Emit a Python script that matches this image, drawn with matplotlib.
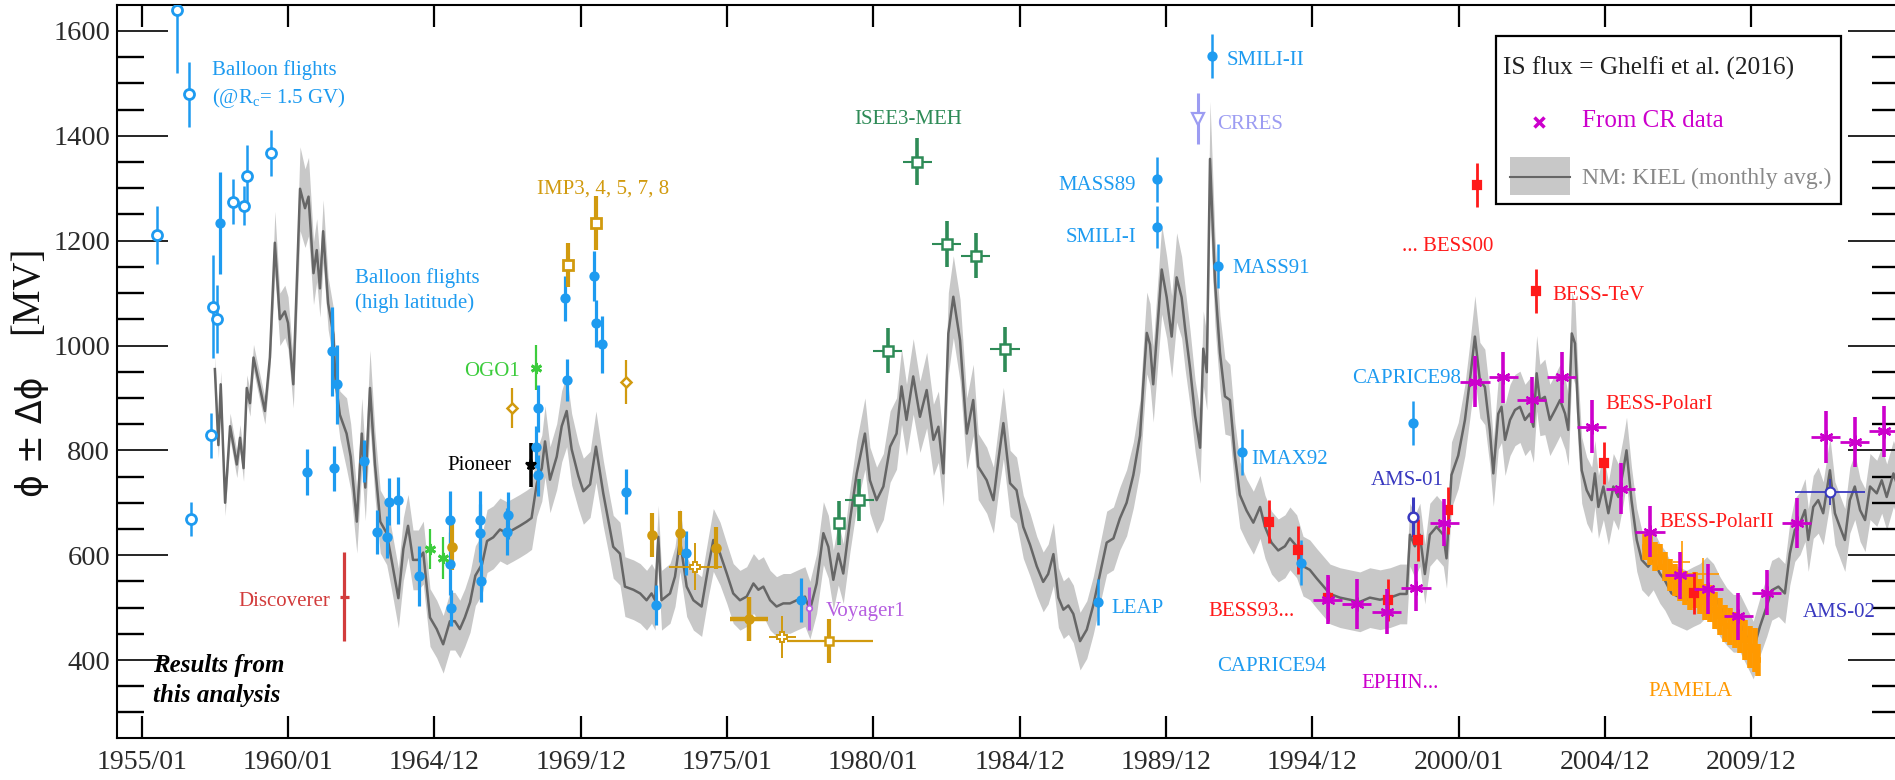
import matplotlib
matplotlib.use("Agg")
import matplotlib.pyplot as plt
from matplotlib.patches import Rectangle
from matplotlib.lines import Line2D
from matplotlib.ticker import MultipleLocator

plt.rcParams['font.family'] = ['Liberation Serif', 'DejaVu Sans']
plt.rcParams['mathtext.fontset'] = 'custom'
plt.rcParams['mathtext.rm'] = 'Liberation Serif'
plt.rcParams['mathtext.it'] = 'Liberation Serif:italic'

# ---------------------------------------------------------------- data
tick_years = [1955, 1960, 1965, 1970, 1975, 1980, 1985, 1990, 1995, 2000, 2005, 2010]
tick_labels = ["1955/01", "1960/01", "1964/12", "1969/12", "1975/01", "1980/01",
               "1984/12", "1989/12", "1994/12", "2000/01", "2004/12", "2009/12"]
phi_ticks = [400, 600, 800, 1000, 1200, 1400, 1600]

# Kiel neutron monitor, monthly modulation potential and its uncertainty
kiel_year = [
    1957.50, 1957.62, 1957.70, 1957.85, 1958.02, 1958.25, 1958.36, 1958.48, 1958.59, 1958.70,
    1958.82, 1959.04, 1959.21, 1959.38, 1959.55, 1959.72, 1959.89, 1960.00, 1960.18, 1960.41,
    1960.58, 1960.70, 1960.87, 1960.98, 1961.09, 1961.20, 1961.37, 1961.55, 1961.62, 1961.77,
    1962.00, 1962.14, 1962.35, 1962.52, 1962.64, 1962.80, 1962.97, 1963.15, 1963.37, 1963.54,
    1963.77, 1963.94, 1964.10, 1964.27, 1964.45, 1964.62, 1964.85, 1965.08, 1965.30, 1965.53,
    1965.70, 1965.87, 1966.04, 1966.22, 1966.40, 1966.63, 1966.80, 1967.01, 1967.24, 1967.47,
    1967.70, 1967.92, 1968.15, 1968.32, 1968.50, 1968.67, 1968.78, 1968.95, 1969.18, 1969.35,
    1969.52, 1969.69, 1969.92, 1970.09, 1970.32, 1970.52,
    1970.77, 1970.94, 1971.11, 1971.34, 1971.51, 1971.80, 1972.03, 1972.25, 1972.42, 1972.54,
    1972.65, 1972.76, 1973.05, 1973.22, 1973.39, 1973.62, 1973.85, 1974.13, 1974.36, 1974.53,
    1974.76, 1974.99, 1975.21, 1975.44, 1975.67, 1975.90, 1976.07, 1976.24, 1976.47, 1976.69,
    1976.92, 1977.15, 1977.38, 1977.66, 1977.83, 1978.06, 1978.29, 1978.46, 1978.63, 1978.80,
    1978.97, 1979.20, 1979.43, 1979.71, 1979.88, 1980.11, 1980.34, 1980.57, 1980.79, 1980.96,
    1981.13, 1981.36, 1981.59, 1981.82, 1982.05, 1982.22, 1982.39, 1982.56, 1982.73, 1982.96,
    1983.19, 1983.41, 1983.58, 1983.87, 1984.10, 1984.27, 1984.44, 1984.67, 1984.89, 1985.12,
    1985.35, 1985.58,
    1985.80, 1985.97, 1986.15, 1986.32, 1986.49, 1986.66, 1986.83, 1987.06, 1987.29, 1987.51,
    1987.74, 1987.97, 1988.20, 1988.42, 1988.65, 1988.88, 1989.11, 1989.22, 1989.34, 1989.45,
    1989.56, 1989.68, 1989.85, 1990.02, 1990.19, 1990.36, 1990.53, 1990.65, 1990.82, 1990.99,
    1991.16, 1991.27, 1991.39, 1991.50, 1991.67, 1991.84, 1992.01, 1992.18, 1992.35, 1992.52,
    1992.75, 1992.98, 1993.21, 1993.38, 1993.60, 1993.83, 1994.06, 1994.23, 1994.46, 1994.68,
    1994.91, 1995.14, 1995.37, 1995.60, 1995.94, 1996.28, 1996.62, 1996.96, 1997.31, 1997.65,
    1997.99, 1998.22, 1998.33, 1998.50, 1998.67, 1998.84, 1999.01, 1999.24, 1999.47, 1999.58,
    1999.75, 1999.98,
    2000.21, 2000.38, 2000.55, 2000.72, 2000.89, 2001.06, 2001.18, 2001.35, 2001.46, 2001.58,
    2001.75, 2001.92, 2002.09, 2002.26, 2002.43, 2002.55, 2002.66, 2002.77, 2002.94, 2003.11,
    2003.29, 2003.46, 2003.63, 2003.74, 2003.86, 2003.97, 2004.08, 2004.20, 2004.37, 2004.54,
    2004.65, 2004.77, 2004.94, 2005.11, 2005.28, 2005.45, 2005.62, 2005.73, 2005.90, 2006.08,
    2006.25, 2006.47, 2006.64, 2006.87, 2007.04, 2007.27, 2007.50, 2007.78, 2008.01, 2008.24,
    2008.47, 2008.70, 2008.92, 2009.15, 2009.38, 2009.61, 2009.83, 2010.06, 2010.29, 2010.52,
    2010.69, 2010.92, 2011.14, 2011.31, 2011.48, 2011.66, 2011.83, 2011.94, 2012.11, 2012.28,
    2012.45, 2012.68, 2012.85, 2013.02, 2013.19, 2013.36, 2013.53, 2013.71, 2013.88, 2014.05,
    2014.28, 2014.45, 2014.62, 2014.85, 2015.00,
]
kiel_phi = [
    955, 810, 926, 700, 846, 773, 824, 766, 919, 890,
    977, 919, 875, 977, 1196, 1050, 1065, 1043, 926, 1299,
    1262, 1284, 1138, 1182, 1109, 1218, 1080, 1021, 934, 868,
    832, 788, 664, 832, 729, 919, 773, 664, 642, 590,
    518, 612, 656, 591, 591, 605, 481, 459, 430, 474,
    474, 459, 481, 510, 561, 583, 627, 634, 649, 642,
    649, 656, 664, 671, 737, 766, 817, 744, 788, 846,
    875, 802, 751, 722, 735, 807,
    718, 667, 616, 603, 540, 534, 527, 514, 527, 514,
    635, 514, 527, 559, 629, 540, 514, 502, 578, 629,
    603, 565, 527, 514, 521, 546, 534, 540, 514, 502,
    508, 508, 514, 521, 495, 546, 642, 616, 553, 603,
    565, 667, 756, 832, 743, 705, 731, 807, 832, 922,
    858, 941, 864, 915, 820, 845, 756, 1023, 1093, 1010,
    832, 896, 769, 743, 705, 782, 852, 737, 724, 654,
    620, 579,
    549, 564, 602, 519, 496, 504, 488, 436, 458, 504,
    564, 624, 632, 670, 700, 753, 828, 926, 1024, 1002,
    926, 1017, 1145, 1092, 1017, 1130, 1092, 1032, 956, 866,
    805, 994, 949, 1356, 1122, 986, 903, 896, 790, 715,
    685, 662, 692, 654, 624, 609, 617, 632, 617, 579,
    572, 556, 541, 526, 519, 515, 511, 519, 515, 519,
    526, 526, 639, 617, 639, 564, 639, 654, 639, 594,
    753, 790,
    858, 934, 1017, 934, 921, 839, 756, 870, 883, 820,
    858, 877, 883, 858, 870, 845, 947, 896, 902, 858,
    877, 896, 870, 839, 1023, 1004, 870, 762, 724, 705,
    756, 692, 731, 680, 731, 711, 762, 800, 705, 629,
    591, 578, 591, 565, 552, 527, 521, 514, 521, 527,
    540, 527, 502, 483, 470, 470, 445, 419, 464, 502,
    533, 540, 527, 603, 648, 661, 686, 629, 692, 705,
    680, 762, 680, 654, 629, 705, 731, 686, 667, 731,
    718, 743, 711, 756, 730,
]
kiel_dphi = [
    25, 25, 25, 25, 25, 25, 25, 25, 25, 25,
    25, 25, 25, 25, 60, 50, 50, 50, 45, 80,
    75, 75, 60, 60, 55, 60, 50, 50, 45, 45,
    68, 63, 60, 68, 63, 72, 63, 60, 60, 57,
    57, 60, 60, 57, 57, 60, 55, 55, 55, 55,
    55, 55, 55, 57, 57, 57, 60, 60, 60, 60,
    60, 60, 60, 60, 63, 63, 68, 63, 63, 68,
    68, 68, 63, 63, 63, 68,
    63, 60, 60, 60, 57, 57, 57, 57, 57, 57,
    60, 57, 57, 57, 60, 57, 57, 57, 57, 60,
    60, 57, 57, 57, 57, 57, 57, 57, 57, 57,
    57, 57, 57, 57, 55, 57, 60, 60, 57, 60,
    57, 60, 63, 68, 63, 63, 63, 68, 68, 72,
    68, 72, 68, 72, 68, 68, 63, 78, 78, 78,
    68, 68, 63, 63, 63, 63, 68, 63, 63, 60,
    60, 57,
    57, 57, 60, 57, 55, 55, 55, 55, 55, 55,
    57, 60, 60, 60, 63, 63, 68, 72, 78, 78,
    72, 78, 85, 78, 78, 85, 78, 78, 72, 68,
    68, 72, 72, 110, 85, 72, 72, 68, 63, 63,
    60, 60, 60, 60, 60, 60, 60, 60, 60, 57,
    57, 57, 57, 57, 57, 57, 57, 57, 57, 57,
    57, 57, 60, 60, 60, 57, 60, 60, 60, 57,
    63, 63,
    68, 72, 78, 72, 72, 68, 63, 68, 68, 68,
    68, 68, 68, 68, 68, 68, 72, 68, 72, 68,
    68, 68, 68, 68, 78, 78, 68, 63, 63, 63,
    63, 60, 63, 60, 63, 63, 63, 63, 63, 60,
    57, 57, 57, 57, 57, 57, 57, 57, 57, 57,
    57, 57, 57, 55, 55, 55, 55, 55, 55, 57,
    57, 57, 57, 60, 60, 60, 60, 60, 60, 63,
    60, 63, 60, 60, 60, 63, 63, 60, 60, 63,
    63, 63, 63, 63, 63,
]

# balloon flights at R_c = 1.5 GV (open circles)
brc_year = [1955.51, 1956.20, 1956.63, 1956.67, 1957.36, 1957.43, 1957.58, 1958.13, 1958.50, 1958.59, 1959.42]
brc_phi = [1211, 1640, 1479, 669, 829, 1074, 1050, 1274, 1267, 1324, 1367]
brc_err = [55, 120, 62, 32, 43, 98, 65, 43, 37, 58, 44]

# balloon flights at high latitude (filled circles)
bhl_year = [1957.67, 1960.64, 1961.49, 1961.66, 1961.58, 1962.58, 1963.03, 1963.37, 1963.46, 1963.77,
            1964.47, 1965.54, 1965.54, 1965.56, 1966.56, 1966.56, 1966.59, 1967.47, 1967.53, 1968.47,
            1968.55, 1968.55, 1969.46, 1969.54, 1970.45, 1970.51, 1970.72, 1971.55, 1972.56, 1973.60,
            1977.53]
bhl_phi = [1234, 759, 989, 926, 766, 779, 645, 634, 702, 705,
           560, 667, 584, 499, 667, 642, 551, 645, 676, 807,
           880, 752, 1090, 934, 1133, 1042, 1002, 721, 505, 605,
           515]
bhl_err = [97, 44, 85, 75, 43, 40, 42, 40, 45, 45,
           57, 55, 60, 35, 55, 55, 40, 45, 45, 40,
           45, 40, 43, 40, 48, 45, 55, 43, 38, 42,
           42]

# later balloon experiments: LEAP, MASS89, SMILI-I, SMILI-II, MASS91, IMAX92, CAPRICE94, CAPRICE98
bexp_year = [1987.68, 1989.68, 1989.68, 1991.58, 1991.76, 1992.58, 1994.61, 1998.42]
bexp_phi = [511, 1317, 1226, 1552, 1152, 797, 586, 853]
bexp_err = [44, 43, 40, 42, 42, 44, 42, 42]

disc_year, disc_phi, disc_err, disc_xerr = [1961.92], [521], [85], [0.15]
pion_year, pion_phi, pion_err = [1968.29], [772], [42]
ogo_year, ogo_phi, ogo_err = [1964.85, 1965.30, 1968.46], [612, 594, 958], [38, 40, 43]

# IMP spacecraft
imp_a_year, imp_a_phi, imp_a_err = [1965.59, 1972.42, 1973.39, 1974.61], [616, 639, 643, 613], [45, 42, 42, 40]
imp_b_year, imp_b_phi, imp_b_err = [1969.55, 1970.52], [1153, 1234], [42, 52]
imp_c_year, imp_c_phi, imp_c_err = [1967.66, 1971.55], [881, 931], [38, 42]
imp_d_year, imp_d_phi, imp_d_err, imp_d_xerr = [1973.92, 1976.89], [578, 443], [45, 40], [0.9, 0.45]
imp_e_year, imp_e_phi, imp_e_err, imp_e_xerr = [1975.76], [479], [42], [0.65]
imp_f_year, imp_f_phi, imp_f_err = [1978.49], [437], [42]
imp_f_xlo, imp_f_xhi = [1.45], [1.5]

isee_year = [1978.83, 1979.52, 1980.49, 1981.50, 1982.50, 1983.50, 1984.50]
isee_phi = [661, 706, 990, 1351, 1193, 1171, 993]
isee_err = [42, 40, 43, 44, 44, 43, 43]
isee_xerr = [0.0, 0.5, 0.5, 0.5, 0.5, 0.5, 0.5]

voy_year, voy_phi, voy_err = [1977.81], [499], [41]
crres_year, crres_phi, crres_err = [1991.10], [1433], [48]
ams1_year, ams1_phi, ams1_err = [1998.44], [673], [38]
ams2_year, ams2_phi, ams2_err, ams2_xerr = [2012.68], [721], [25], [1.2]

bess_year = [1993.52, 1994.49, 1995.54, 1997.59, 1998.59, 1999.64, 2000.61, 2002.64, 2004.96, 2008.05]
bess_phi = [664, 610, 518, 514, 629, 686, 1307, 1104, 776, 527]
bess_err = [41, 45, 43, 40, 40, 45, 42, 42, 40, 40]

cr_year = [1995.52, 1996.51, 1997.53, 1998.54, 1999.50, 2000.55, 2001.52, 2002.49, 2003.51, 2004.54,
           2005.53, 2006.53, 2007.56, 2008.52, 2009.55, 2010.52, 2011.54, 2012.54, 2013.53, 2014.53]
cr_phi = [515, 507, 492, 538, 662, 931, 939, 896, 939, 845,
          727, 645, 562, 536, 483, 528, 662, 825, 816, 836]
cr_err = [47, 47, 43, 45, 45, 49, 48, 43, 48, 51,
          48, 48, 45, 48, 45, 43, 48, 50, 48, 48]

pam_year = [2006.36, 2006.53, 2006.70, 2006.87, 2007.04, 2007.21, 2007.38, 2007.56, 2007.73, 2007.90,
            2008.07, 2008.24, 2008.41, 2008.58, 2008.75, 2008.92, 2009.09, 2009.26, 2009.44, 2009.61,
            2009.78, 2009.95, 2010.12, 2010.23]
pam_phi = [616, 610, 597, 597, 578, 562, 553, 543, 537, 527,
           533, 521, 511, 508, 495, 483, 470, 464, 457, 448,
           438, 425, 419, 400]
pam_err = [25, 28, 28, 25, 28, 30, 30, 30, 32, 32,
           34, 34, 34, 35, 35, 35, 35, 35, 35, 35,
           38, 40, 42, 30]
pam2_year, pam2_phi, pam2_err, pam2_xerr = [2007.61, 2008.35], [587, 565], [40, 30], [0.3, 0.55]

# ---------------------------------------------------------------- colours
C_BLUE = '#1e9bf0'
C_RED = '#ff1a1a'
C_DISC = '#d23c3c'
C_MAG = '#cc00cc'
C_GOLD = '#d19a0e'
C_ISEE = '#2e8b57'
C_OGO = '#3ccc3c'
C_VOY = '#b65fe0'
C_CRRES = '#9c9cf2'
C_AMS = '#3a3ac0'
C_PAM = '#ff9900'
C_BAND = '#c8c8c8'
C_LINE = '#666666'

# ---------------------------------------------------------------- figure
W, H = 1895, 780
fig = plt.figure(figsize=(W / 100, H / 100), dpi=100)
ax = fig.add_axes([116.7 / W, 1 - 738 / H, (1899 - 116.7) / W, (738 - 5) / H])
ax.set_xlim(1954.146, 2015.04)
ax.set_ylim(251.2, 1649.6)

lo = [p - d for p, d in zip(kiel_phi, kiel_dphi)]
hi = [p + d for p, d in zip(kiel_phi, kiel_dphi)]
ax.fill_between(kiel_year, lo, hi, color=C_BAND, lw=0, zorder=1)
ax.plot(kiel_year, kiel_phi, color=C_LINE, lw=1.8, zorder=2)


def pts(x, y, yerr, color, marker='o', ms=6, mfc=None, lw=2.0, mew=1.6,
        xerr=None, xlw=None, z=5):
    ax.errorbar(x, y, yerr=yerr, fmt='none', ecolor=color, elinewidth=lw,
                capsize=0, zorder=z)
    if xerr is not None:
        ax.errorbar(x, y, xerr=xerr, fmt='none', ecolor=color,
                    elinewidth=xlw if xlw else lw, capsize=0, zorder=z)
    if marker:
        ax.plot(x, y, ls='none', marker=marker, ms=ms,
                mfc=color if mfc is None else mfc, mec=color, mew=mew, zorder=z + 1)


# PAMELA band of monthly points
pts(pam_year, pam_phi, pam_err, C_PAM, marker=None, lw=4.0,
    xerr=[0.09] * len(pam_year), z=3)
pts(pam2_year, pam2_phi, pam2_err, C_PAM, marker=None, lw=1.2, xerr=pam2_xerr, z=3)

pts(brc_year, brc_phi, brc_err, C_BLUE, marker='o', ms=7.2, mfc='white', lw=1.8, mew=2.0)
pts(bhl_year, bhl_phi, bhl_err, C_BLUE, marker='o', ms=5.8, lw=2.3)
pts(bexp_year, bexp_phi, bexp_err, C_BLUE, marker='o', ms=5.8, lw=1.8)
pts(disc_year, disc_phi, disc_err, C_DISC, marker=None, lw=2.3, xerr=disc_xerr)
pts(pion_year, pion_phi, pion_err, 'black', marker='*', ms=8, lw=2.6)
pts(ogo_year, ogo_phi, ogo_err, C_OGO, marker=(6, 2, 0), ms=8, lw=1.6, mew=2.0)

pts(imp_a_year, imp_a_phi, imp_a_err, C_GOLD, marker='o', ms=6, lw=3.0)
pts(imp_b_year, imp_b_phi, imp_b_err, C_GOLD, marker='s', ms=6.5, mfc='white', lw=3.0, mew=2.0)
pts(imp_c_year, imp_c_phi, imp_c_err, C_GOLD, marker='D', ms=5, mfc='white', lw=1.6, mew=1.8)
pts(imp_d_year, imp_d_phi, imp_d_err, C_GOLD, marker='P', ms=7, mfc='white', lw=1.4,
    mew=1.4, xerr=imp_d_xerr)
pts(imp_e_year, imp_e_phi, imp_e_err, C_GOLD, marker='o', ms=6, lw=3.2, xerr=imp_e_xerr)
pts(imp_f_year, imp_f_phi, imp_f_err, C_GOLD, marker='s', ms=6, mfc='white', lw=3.0,
    mew=1.8, xerr=[imp_f_xlo, imp_f_xhi], xlw=1.6)

pts(isee_year, isee_phi, isee_err, C_ISEE, marker='s', ms=7, mfc='white', lw=2.6, mew=1.8,
    xerr=isee_xerr, xlw=1.5)
pts(voy_year, voy_phi, voy_err, C_VOY, marker='o', ms=4, mfc='white', lw=2.2, mew=1.2)
pts(crres_year, crres_phi, crres_err, C_CRRES, marker='v', ms=8, mfc='white', lw=2.2, mew=1.6)
pts(ams1_year, ams1_phi, ams1_err, C_AMS, marker='o', ms=7, mfc='white', lw=2.2, mew=1.8)
pts(ams2_year, ams2_phi, ams2_err, C_AMS, marker='o', ms=7, mfc='white', lw=1.3, mew=1.5,
    xerr=ams2_xerr)
pts(bess_year, bess_phi, bess_err, C_RED, marker='s', ms=6, lw=2.0)
pts(cr_year, cr_phi, cr_err, C_MAG, marker=(6, 2, 0), ms=10, lw=2.6, mew=1.6,
    xerr=[0.5] * len(cr_year), xlw=2.0, z=7)

# ---------------------------------------------------------------- labels
FS = 15
labels = [
    (1957.39, 1526, "Balloon flights", C_BLUE, 'left'),
    (1957.39, 1473, "(@R$_\\mathrm{c}$= 1.5 GV)", C_BLUE, 'left'),
    (1962.29, 1128, "Balloon flights", C_BLUE, 'left'),
    (1962.29, 1080, "(high latitude)", C_BLUE, 'left'),
    (1961.43, 512, "Discoverer", C_DISC, 'right'),
    (1967.92, 950, "OGO1", C_OGO, 'right'),
    (1967.64, 772, "Pioneer", 'black', 'right'),
    (1968.50, 1298, "IMP3, 4, 5, 7, 8", C_GOLD, 'left'),
    (1979.34, 1432, "ISEE3-MEH", C_ISEE, 'left'),
    (1978.38, 492, "Voyager1", C_VOY, 'left'),
    (1988.14, 499, "LEAP", C_BLUE, 'left'),
    (1988.96, 1306, "MASS89", C_BLUE, 'right'),
    (1988.99, 1206, "SMILI-I", C_BLUE, 'right'),
    (1992.07, 1543, "SMILI-II", C_BLUE, 'left'),
    (1991.73, 1421, "CRRES", C_CRRES, 'left'),
    (1992.27, 1147, "MASS91", C_BLUE, 'left'),
    (1992.92, 783, "IMAX92", C_BLUE, 'left'),
    (1991.44, 492, "BESS93...", C_RED, 'left'),
    (1991.73, 387, "CAPRICE94", C_BLUE, 'left'),
    (1996.68, 355, "EPHIN...", C_MAG, 'left'),
    (1996.99, 743, "AMS-01", C_AMS, 'left'),
    (1996.34, 937, "CAPRICE98", C_BLUE, 'left'),
    (1998.05, 1188, "... BESS00", C_RED, 'left'),
    (2003.20, 1096, "BESS-TeV", C_RED, 'left'),
    (2005.00, 888, "BESS-PolarI", C_RED, 'left'),
    (2006.85, 662, "BESS-PolarII", C_RED, 'left'),
    (2006.47, 340, "PAMELA", C_PAM, 'left'),
    (2011.77, 490, "AMS-02", C_AMS, 'left'),
]
for x, y, s, c, ha in labels:
    ax.text(x, y, s, color=c, fontsize=FS, ha=ha, va='center', zorder=8)

ax.text(1955.4, 390, "Results from", fontsize=18, fontweight='bold', fontstyle='italic',
        ha='left', va='center', color='black')
ax.text(1955.4, 333, "this analysis", fontsize=18, fontweight='bold', fontstyle='italic',
        ha='left', va='center', color='black')

# ---------------------------------------------------------------- axes styling
ax.set_xticks(tick_years)
ax.set_xticklabels(tick_labels)
ax.set_yticks(phi_ticks)
ax.yaxis.set_minor_locator(MultipleLocator(50))
ax.tick_params(axis='x', which='major', direction='in', length=15.5, width=1.6,
               top=True, bottom=True, labelsize=20, pad=8.5, labelcolor='#2a2a2a')
ax.tick_params(axis='x', which='minor', bottom=False, top=False)
ax.tick_params(axis='y', which='major', direction='in', length=37, width=1.2,
               left=True, right=True, labelsize=20.5, pad=4.8, labelcolor='#2a2a2a')
ax.tick_params(axis='y', which='minor', direction='in', length=19.5, width=1.7,
               left=True, right=True)
for sp in ax.spines.values():
    sp.set_linewidth(1.5)

# y-axis title
fig.text(32 / W, 1 - 437 / H, "ϕ ± Δϕ", rotation=90, ha='center', va='center',
         fontsize=25, family='DejaVu Sans', color='#111111')
fig.text(28 / W, 1 - 290 / H, "[MV]", rotation=90, ha='center', va='center',
         fontsize=28, color='#111111')

# ---------------------------------------------------------------- legend box
fig.patches.append(Rectangle((1496 / W, 1 - 204 / H), 345 / W, 168 / H,
                             transform=fig.transFigure, facecolor='white',
                             edgecolor='black', lw=1.6, zorder=20))
fig.text(1502.7 / W, 1 - 68 / H, "IS flux = Ghelfi et al. (2016)", fontsize=18.3,
         color='#222222', ha='left', va='center', zorder=21)
fig.lines.append(Line2D([1539 / W], [1 - 121.7 / H], transform=fig.transFigure,
                        marker='x', ms=7, mew=2.5, color=C_MAG, ls='none', zorder=21))
fig.text(1581.7 / W, 1 - 121 / H, "From CR data", fontsize=18, color=C_MAG,
         ha='left', va='center', zorder=21)
fig.patches.append(Rectangle((1510 / W, 1 - 195 / H), 60 / W, 38.3 / H,
                             transform=fig.transFigure, facecolor=C_BAND,
                             edgecolor='none', zorder=21))
fig.lines.append(Line2D([1510 / W, 1570 / W], [1 - 176.7 / H, 1 - 176.7 / H],
                        transform=fig.transFigure, color=C_LINE, lw=1.5, zorder=22))
fig.text(1581.7 / W, 1 - 178 / H, "NM: KIEL (monthly avg.)", fontsize=17, color='#888888',
         ha='left', va='center', zorder=21)

fig.savefig("out.png", dpi=100)
